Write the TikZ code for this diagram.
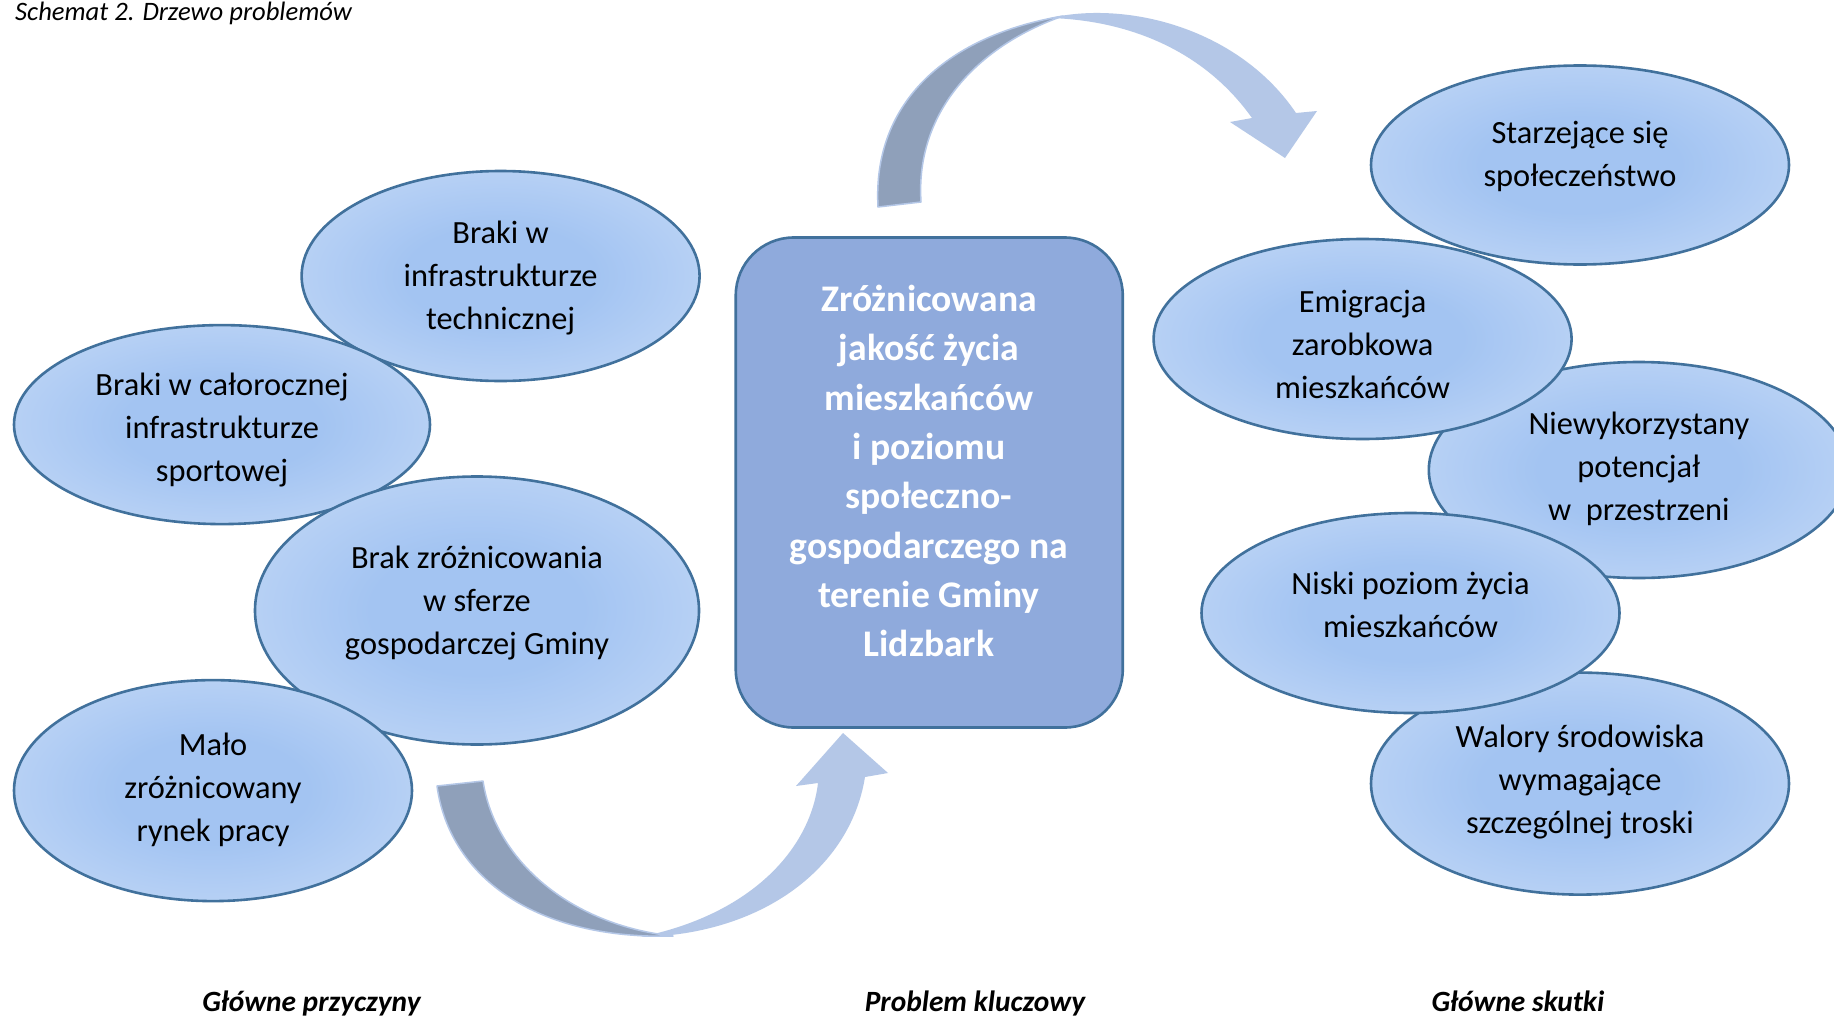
\documentclass[tikz,border=0pt]{standalone}
\usepackage{fontspec}
\setmainfont{Carlito}
\usetikzlibrary{shapes.geometric}
\definecolor{edgeblue}{RGB}{65,113,156}
\definecolor{ellin}{RGB}{163,196,242}
\definecolor{ellout}{RGB}{220,232,249}
\definecolor{boxfill}{RGB}{143,170,220}
\definecolor{arrlight}{RGB}{180,199,231}
\definecolor{arrdark}{RGB}{143,160,186}
\pgfdeclareradialshading{ellshade}{\pgfpoint{0bp}{0bp}}{color(0bp)=(ellin); color(12bp)=(ellin); color(50bp)=(ellout); color(72bp)=(ellout)}
\begin{document}
\begin{tikzpicture}[x=1pt,y=-1pt,
  ell/.style={ellipse, draw=edgeblue, line width=2.6pt, shade, shading=ellshade, inner sep=0pt},
  etext/.style={align=center, font=\fontsize{32.4}{43}\selectfont, text=black, inner sep=0pt},
  keybox/.style={rectangle, rounded corners=58pt, draw=edgeblue, line width=2.6pt, fill=boxfill, inner sep=0pt},
  keytext/.style={align=center, font=\fontsize{37.6}{49.3}\selectfont\bfseries, text=white, inner sep=0pt},
  caption/.style={font=\fontsize{29.4}{34}\selectfont\bfseries\itshape, inner sep=0pt, anchor=base},
  lightpart/.style={fill=arrlight},
  darkpart/.style={fill=arrdark, draw=arrlight, line width=1.5pt, line join=round}]
\fill[white] (0,0) rectangle (1834,1017);
\useasboundingbox (0,0) rectangle (1834,1017);

% title
\node[font=\fontsize{26.6}{30}\selectfont\itshape, anchor=base west, inner sep=0pt] (title) at (15,20) {Schemat 2. Drzewo problemów};

% left ellipses (causes)
\node[ell, minimum width=398pt, minimum height=210pt] (e1) at (500.6,276) {};
\node[ell, minimum width=416pt, minimum height=199pt] (e2) at (222,424.6) {};
\node[ell, minimum width=444pt, minimum height=268pt] (e3) at (477,610.5) {};
\node[ell, minimum width=398pt, minimum height=221pt] (e4) at (213,790.6) {};

% right ellipses (effects)
\node[ell, minimum width=418pt, minimum height=199pt] (e5) at (1580,165) {};
\node[ell, minimum width=420pt, minimum height=216pt] (e7) at (1638.8,470) {};
\node[ell, minimum width=418pt, minimum height=222pt] (e9) at (1580,783.6) {};
\node[ell, minimum width=418pt, minimum height=200pt] (e6) at (1362.6,339) {};
\node[ell, minimum width=418pt, minimum height=200pt] (e8) at (1410.5,613) {};

% ellipse texts
\node[etext] (t1) at (500.6,278.5) {Braki w\\infrastrukturze\\technicznej};
\node[etext] (t2) at (222,430.5) {Braki w całorocznej\\infrastrukturze\\sportowej};
\node[etext] (t3) at (477,603.5) {Brak zróżnicowania\\w sferze\\gospodarczej Gminy};
\node[etext] (t4) at (213,789.5) {Mało\\zróżnicowany\\rynek pracy};
\node[etext] (t5) at (1580,156.5) {Starzejące się\\społeczeństwo};
\node[etext] (t6) at (1362.6,344) {Emigracja\\zarobkowa\\mieszkańców};
\node[etext] (t7) at (1638.8,469) {Niewykorzystany\\potencjał\\w\ \ przestrzeni};
\node[etext] (t8) at (1410.5,604.5) {Niski poziom życia\\mieszkańców};
\node[etext] (t9) at (1580,782.5) {Walory środowiska\\wymagające\\szczególnej troski};

% key problem
\node[keybox, minimum width=387pt, minimum height=490pt] (key) at (929.25,482.5) {};
\node[keytext] (keyt) at (929,471) {Zróżnicowana\\jakość życia\\mieszkańców\\i poziomu\\społeczno-\\gospodarczego na\\terenie Gminy\\Lidzbark};

% top curved arrow
\path[lightpart] (1050,18) .. controls (1130,0) and (1240,30) .. (1296,113)
  -- (1317,111) -- (1285,158) -- (1230,122) -- (1252,118)
  .. controls (1200,45) and (1120,20) .. (1050,18) -- cycle;
\path[darkpart] (878,207) .. controls (872,100) and (950,35) .. (1063,16)
  .. controls (980,45) and (915,110) .. (921,202) -- cycle;

% bottom curved arrow
\path[lightpart] (640,937) .. controls (760,935) and (850,870) .. (865,777)
  -- (888,773) -- (843,733) -- (796,786) -- (818,783)
  .. controls (810,850) and (750,915) .. (640,937) -- cycle;
\path[darkpart] (437,786) .. controls (450,880) and (540,940) .. (673,936)
  .. controls (570,925) and (495,860) .. (483,781) -- cycle;

% captions
\node[caption] (c1) at (311.5,1011.5) {Główne przyczyny};
\node[caption] (c2) at (975,1011.5) {Problem kluczowy};
\node[caption] (c3) at (1518,1011.5) {Główne skutki};
\end{tikzpicture}
\end{document}
